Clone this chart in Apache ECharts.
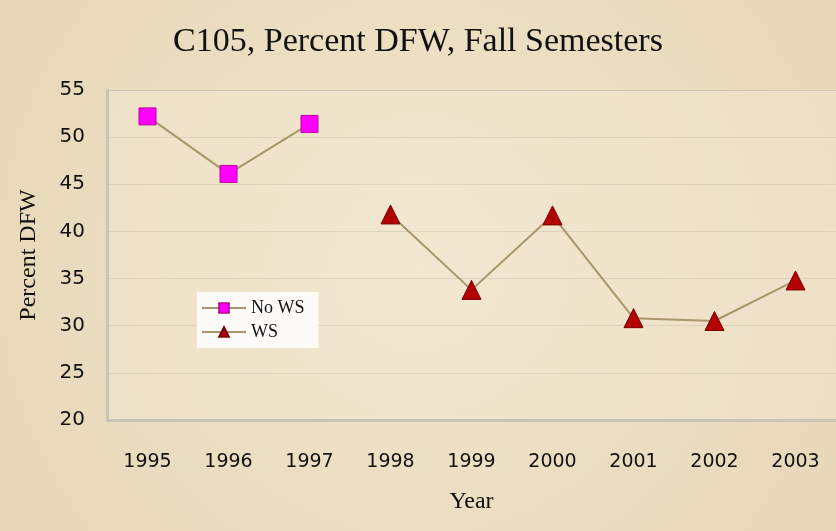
<!DOCTYPE html>
<html><head><meta charset="utf-8">
<script src="https://cdn.jsdelivr.net/npm/echarts@6/dist/echarts.min.js"></script>
<style>html,body{margin:0;padding:0;background:#eee2c6;}#c{width:836px;height:531px;}</style>
</head><body><div id="c"></div>
<script>
const years = ['1995','1996','1997','1998','1999','2000','2001','2002','2003'];
const noWS = [52.2, 46.1, 51.4, null, null, null, null, null, null];
const ws = [null, null, null, 41.8, 33.8, 41.7, 30.8, 30.5, 34.8];
const yTicks = [20, 25, 30, 35, 40, 45, 50, 55];

const chart = echarts.init(document.getElementById('c'));
chart.setOption({
  backgroundColor: {
    type: 'radial', x: 0.5, y: 0.5, r: 0.8,
    colorStops: [{offset: 0, color: '#f0e5cb'}, {offset: 1, color: '#e8d9ba'}]
  },
  title: {
    text: 'C105, Percent DFW, Fall Semesters',
    left: 'center', top: 20,
    textStyle: {fontFamily: 'Liberation Serif', fontSize: 34, fontWeight: 'normal', color: '#111'}
  },
  legend: {
    left: 197, top: 292, orient: 'vertical',
    backgroundColor: 'rgba(255,255,255,0.85)',
    padding: [7, 14, 7, 4], itemGap: 6, itemWidth: 44, itemHeight: 12,
    textStyle: {fontFamily: 'Liberation Serif', fontSize: 18, color: '#111'},
    data: ['No WS', 'WS']
  },
  grid: {left: 107, right: -2, top: 90, bottom: 111, show: true, backgroundColor: 'rgba(245,236,216,0.4)', borderColor: 'transparent'},
  xAxis: {
    type: 'category', data: years, boundaryGap: true,
    name: 'Year', nameLocation: 'middle', nameGap: 70,
    nameTextStyle: {fontFamily: 'Liberation Serif', fontSize: 24, color: '#111'},
    axisLine: {show: true, lineStyle: {color: '#c9c4ba', width: 3}},
    axisTick: {show: false},
    axisLabel: {fontFamily: 'DejaVu Sans', fontSize: 19, color: '#111', margin: 33}
  },
  yAxis: {
    type: 'value', min: 20, max: 55, interval: 5,
    name: 'Percent DFW', nameLocation: 'middle', nameGap: 66,
    nameTextStyle: {fontFamily: 'Liberation Serif', fontSize: 24, color: '#111'},
    axisLine: {show: true, lineStyle: {color: '#c9c4ba', width: 3}},
    axisTick: {show: false},
    axisLabel: {fontFamily: 'DejaVu Sans', fontSize: 20, color: '#111', margin: 22,
      formatter: v => yTicks.includes(v) ? String(v) : ''},
    splitLine: {show: true, lineStyle: {color: ['#ddd3bd','#ddd3bd','#ddd3bd','#ddd3bd','#ddd3bd','#ddd3bd','#ddd3bd','#c9c4ba'], width: 1}}
  },
  series: [
    {
      name: 'No WS', type: 'line', data: noWS,
      symbol: 'rect', symbolSize: 17,
      lineStyle: {color: '#a8976c', width: 2},
      itemStyle: {color: '#ff00ff', borderColor: '#c2009e', borderWidth: 1},
      emphasis: {disabled: true}
    },
    {
      name: 'WS', type: 'line', data: ws,
      symbol: 'triangle', symbolSize: 19,
      lineStyle: {color: '#a8976c', width: 2},
      itemStyle: {color: '#b30000', borderColor: '#7a0000', borderWidth: 1},
      emphasis: {disabled: true}
    }
  ]
});
</script>
</body></html>
